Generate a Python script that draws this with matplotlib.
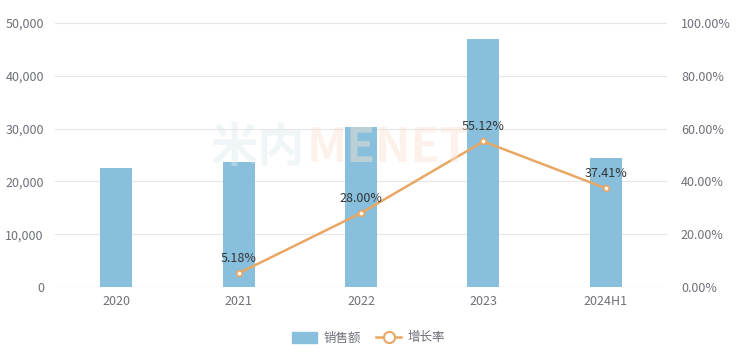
import matplotlib
matplotlib.use("Agg")
import matplotlib.pyplot as plt
from matplotlib.ticker import FuncFormatter
from matplotlib.lines import Line2D
from matplotlib.patches import Patch

plt.rcParams['font.family'] = ['Noto Sans CJK SC', 'DejaVu Sans']

categories = ["2020", "2021", "2022", "2023", "2024H1"]
sales = [22600, 23700, 30340, 47060, 24430]
growth_x = ["2021", "2022", "2023", "2024H1"]
growth = [5.18, 28.00, 55.12, 37.41]
left_ticks = [0, 10000, 20000, 30000, 40000, 50000]
right_ticks = [0, 20, 40, 60, 80, 100]

bar_color = "#88bfdc"
line_color = "#e8a765"
text_color = "#6e7079"
grid_color = "#e6e6e6"

fig = plt.figure(figsize=(7.37, 3.63), dpi=100)
ax = fig.add_axes([55/737, 76/363, 612/737, 264/363])
ax2 = ax.twinx()

x = list(range(len(categories)))
ax.bar(x, sales, width=0.26, color=bar_color, zorder=2)
ax.set_ylim(0, 50000)
ax.set_xlim(-0.5, len(categories) - 0.5)
ax.set_yticks(left_ticks)
ax.yaxis.set_major_formatter(FuncFormatter(lambda v, p: f"{int(v):,}"))
ax.set_xticks(x)
ax.set_xticklabels(categories)
ax.grid(axis='y', color=grid_color, linewidth=0.8, zorder=0)
ax.set_axisbelow(True)

gx = [categories.index(c) for c in growth_x]
ax2.plot(gx, growth, color=line_color, linewidth=1.8, marker='o', markersize=4,
         markerfacecolor='white', markeredgecolor=line_color, markeredgewidth=1.3, zorder=3)
for xi, g in zip(gx, growth):
    ax2.annotate(f"{g:.2f}%", (xi, g), textcoords='offset points', xytext=(0, 6),
                 ha='center', va='bottom', fontsize=9, color='#333333', zorder=5)
ax2.set_ylim(0, 100)
ax2.set_yticks(right_ticks)
ax2.yaxis.set_major_formatter(FuncFormatter(lambda v, p: f"{v:.2f}%"))

for a in (ax, ax2):
    for s in a.spines.values():
        s.set_visible(False)
    a.tick_params(length=0, labelsize=9, labelcolor=text_color)
ax.tick_params(axis='y', pad=8)
ax.tick_params(axis='x', pad=6)
ax2.tick_params(axis='y', pad=10)
ax.axhline(0, color='#d9d9d9', linewidth=0.8, zorder=1)

# watermark (faint logo text)
fig.text(305/737, 0.592, "米内", fontsize=34, color='#dfe9ee', alpha=0.45,
         ha='right', va='center', fontweight='bold', zorder=0)
fig.text(307/737, 0.592, "MENET", fontsize=34, color='#fbe3d3', alpha=0.45,
         ha='left', va='center', fontweight='bold', zorder=0)

handles = [Patch(facecolor=bar_color, edgecolor=bar_color, label="销售额"),
           Line2D([0], [0], color=line_color, linewidth=1.8, marker='o', markersize=8,
                  markerfacecolor='white', markeredgecolor=line_color, markeredgewidth=1.5, label="增长率")]
leg = fig.legend(handles=handles, loc='center', bbox_to_anchor=(0.5, (363-338)/363),
                 ncol=2, frameon=False, fontsize=9, handlelength=2.0, handleheight=1.0,
                 columnspacing=1.2, handletextpad=0.5)
for t in leg.get_texts():
    t.set_color(text_color)

fig.savefig("out.png", dpi=100)
